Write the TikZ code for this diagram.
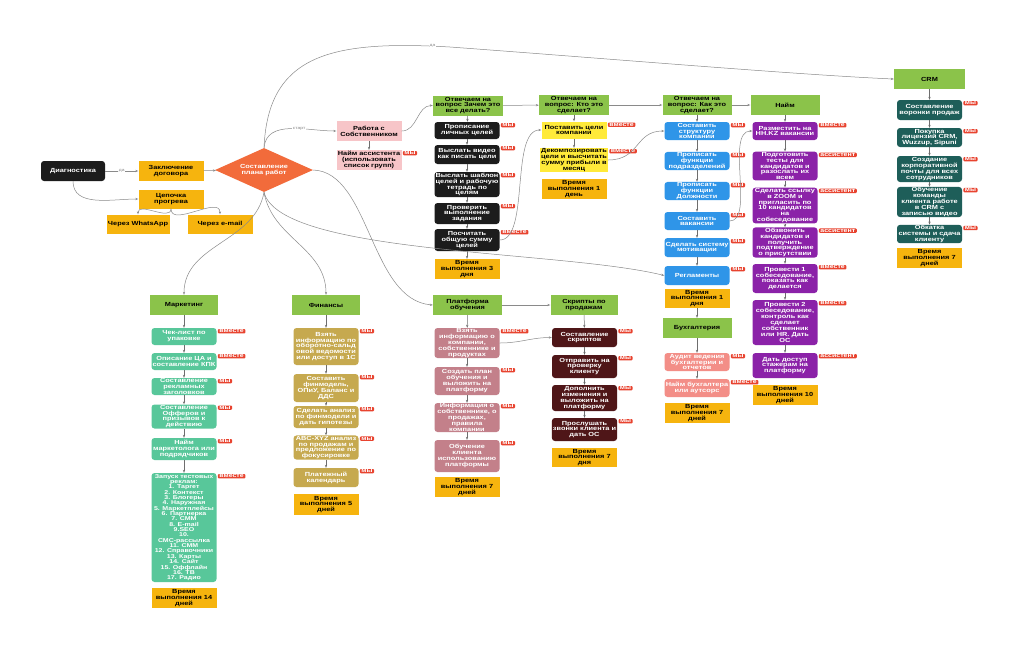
\documentclass[tikz,border=0pt]{standalone}
\usepackage{fontspec}
\newfontfamily\boxfont{Liberation Sans}[FakeStretch=1.25]
\usetikzlibrary{shapes.geometric, arrows.meta, positioning}

\definecolor{hdgreen}{HTML}{8BC34A}
\definecolor{timegold}{HTML}{F6B40E}
\definecolor{nearblack}{HTML}{1C1C1C}
\definecolor{lemon}{HTML}{FFEA3A}
\definecolor{ownerpink}{HTML}{F7C5C8}
\definecolor{planred}{HTML}{F26B3B}
\definecolor{howblue}{HTML}{2F95E8}
\definecolor{hirepurple}{HTML}{8B22A8}
\definecolor{crmteal}{HTML}{1E5E59}
\definecolor{mktmint}{HTML}{58C79A}
\definecolor{finkhaki}{HTML}{C6A94F}
\definecolor{platrose}{HTML}{C3808A}
\definecolor{scrmaroon}{HTML}{4F1618}
\definecolor{accsalmon}{HTML}{F38E87}
\definecolor{tagred}{HTML}{E8432F}
\definecolor{linegray}{HTML}{8A8A8A}

\newcommand{\bx}{\boxfont\bfseries\fontsize{5.9pt}{5.9pt}\selectfont}
\newcommand{\tg}{\boxfont\bfseries\fontsize{5.6pt}{5.8pt}\selectfont}
\newcommand{\lb}{\boxfont\fontsize{4pt}{4.2pt}\selectfont}
\newcommand{\tagat}[2]{\node[tagbox] (#1-t) at ([xshift=1pt,yshift=-1pt]#1.north east) {#2};}

\tikzset{
  arrow/.style    = {-{Stealth[length=3pt]}, linegray!80!black, line width=0.5pt},
  link/.style     = {-{Stealth[length=3pt]}, linegray, line width=0.5pt},
  edgelabel/.style = {fill=white, inner sep=0.5pt, font=\lb, text=linegray},
  box/.style      = {align=center, inner xsep=1pt, inner ysep=0.5pt, font=\bx,
                     minimum width=65pt},
  headbox/.style  = {box, fill=hdgreen, text=black, minimum width=69pt,
                     minimum height=20pt},
  goldbox/.style  = {box, fill=timegold, text=black, minimum height=20pt},
  task/.style     = {box, rounded corners=3pt, text=white},
  blk/.style      = {task, fill=nearblack},
  lemonbox/.style = {box, fill=lemon, text=black},
  ownerbox/.style = {box, fill=ownerpink, text=black},
  howbox/.style   = {task, fill=howblue},
  hirebox/.style  = {task, fill=hirepurple},
  crmbox/.style   = {task, fill=crmteal},
  mktbox/.style   = {task, fill=mktmint},
  finbox/.style   = {task, fill=finkhaki},
  platbox/.style  = {task, fill=platrose},
  scrbox/.style   = {task, fill=scrmaroon},
  accbox/.style   = {task, fill=accsalmon},
  planbox/.style  = {diamond, aspect=2.2, fill=planred, text=white, font=\bx,
                     align=center, inner sep=0pt, minimum width=98pt,
                     minimum height=44pt},
  tagbox/.style   = {fill=tagred, text=white, font=\tg, inner xsep=1.5pt,
                     inner ysep=0.7pt, rounded corners=1pt, anchor=north west},
}

\begin{document}
\begin{tikzpicture}[x=1pt, y=-1pt]
\useasboundingbox[fill=white] (0,0) rectangle (1024,665);

% ---------- start ----------
\node[blk, minimum width=64pt, minimum height=20pt] (diag) at (73,171) {Диагностика};
\node[goldbox] (contract) at (171,171) {Заключение\\договора};
\node[goldbox, minimum height=19pt] (warm) at (171,199) {Цепочка\\прогрева};
\node[goldbox, minimum width=63pt, minimum height=19pt] (wa) at (138,224) {Через WhatsApp};
\node[goldbox, minimum height=19pt] (mail) at (220,224) {Через e-mail};
\node[planbox] (plan) at (264,170) {Составление\\плана работ};

\node[ownerbox, minimum height=20pt] (owner) at (369,131) {Работа с\\Собственником};
\node[ownerbox, minimum height=20pt] (assist) at (369,160) {Найм ассистента\\(использовать\\список групп)};

% ---------- why ----------
\node[headbox, minimum width=70pt] (why) at (468,105.5) {Отвечаем на\\вопрос Зачем это\\все делать?};
\node[blk, minimum height=17pt] (why1) at (467,130.5) {Прописание\\личных целей};
\node[blk, minimum height=19pt] (why2) at (467,154.5) {Выслать видео\\как писать цели};
\node[blk, minimum height=25pt] (why3) at (467,184.5) {Выслать шаблон\\целей и рабочую\\тетрадь по\\целям};
\node[blk, minimum height=21pt] (why4) at (467,213.5) {Проверить\\выполнение\\задания};
\node[blk, minimum height=22pt] (why5) at (467,240) {Посчитать\\общую сумму\\целей};
\node[goldbox] (why6) at (467,269) {Время\\выполнения 3\\дня};

% ---------- who ----------
\node[headbox, minimum width=70pt] (who) at (574,105) {Отвечаем на\\вопрос: Кто это\\сделает?};
\node[lemonbox, minimum height=17pt] (who1) at (574,130) {Поставить цели\\компании};
\node[lemonbox, minimum height=24pt] (who2) at (574,160) {Декомпозировать\\цели и высчитать\\сумму прибыли в\\месяц};
\node[goldbox] (who3) at (574,189) {Время\\выполнения 1\\день};

% ---------- how ----------
\node[headbox] (how) at (697,105) {Отвечаем на\\вопрос: Как это\\сделает?};
\node[howbox, minimum height=18pt] (how1) at (697,131) {Составить\\структуру\\компании};
\node[howbox, minimum height=18pt] (how2) at (697,161) {Прописать\\функции\\подразделений};
\node[howbox, minimum height=18pt] (how3) at (697,191) {Прописать\\функции\\Должности};
\node[howbox, minimum height=18pt] (how4) at (697,221) {Составить\\вакансии};
\node[howbox, minimum height=19pt] (how5) at (697,247.5) {Сделать систему\\мотивации};
\node[howbox, minimum height=19pt] (how6) at (697,275.5) {Регламенты};
\node[goldbox, minimum height=19pt] (how7) at (697,298.5) {Время\\выполнения 1\\дня};

\node[headbox] (acc) at (697,328) {Бухгалтерия};
\node[accbox, minimum height=18pt] (acc1) at (697,362) {Аудит ведения\\бухгалтерии и\\отчетов};
\node[accbox, minimum height=18pt] (acc2) at (697,388) {Найм бухгалтера\\или аутсорс};
\node[goldbox] (acc3) at (697,413) {Время\\выполнения 7\\дней};

% ---------- hire ----------
\node[headbox] (hire) at (785,105) {Найм};
\node[hirebox, minimum height=18pt] (hire1) at (785,131) {Разместить на\\HH.KZ вакансии};
\node[hirebox, minimum height=28pt] (hire2) at (785,166) {Подготовить\\тесты для\\кандидатов и\\разослать их\\всем};
\node[hirebox, minimum height=35pt] (hire3) at (785,205.5) {Сделать ссылку\\в ZOOM и\\пригласить по\\10 кандидатов\\на\\собеседование};
\node[hirebox, minimum height=29pt] (hire4) at (785,242.5) {Обзвонить\\кандидатов и\\получить\\подтверждение\\о присутствии};
\node[hirebox, minimum height=29pt] (hire5) at (785,278.5) {Провести 1\\собеседование,\\показать как\\делается};
\node[hirebox, minimum height=45pt] (hire6) at (785,322.5) {Провести 2\\собеседование,\\контроль как\\сделает\\собственник\\или HR. Дать\\ОС};
\node[hirebox, minimum height=25pt] (hire7) at (785,365.5) {Дать доступ\\стажерам на\\платформу};
\node[goldbox] (hire8) at (785,395) {Время\\выполнения 10\\дней};

% ---------- crm ----------
\node[headbox, minimum width=71pt] (crm) at (929.5,79) {CRM};
\node[crmbox, minimum height=20pt] (crm1) at (929.5,110) {Составление\\воронки продаж};
\node[crmbox, minimum height=19pt] (crm2) at (929.5,137.5) {Покупка\\лицензий CRM,\\Wuzzup, Sipuni};
\node[crmbox, minimum height=26pt] (crm3) at (929.5,169) {Создание\\корпоративной\\почты для всех\\сотрудников};
\node[crmbox, minimum height=30pt] (crm4) at (929.5,202) {Обучение\\команды\\клиента работе\\в CRM с\\записью видео};
\node[crmbox, minimum height=18pt] (crm5) at (929.5,234) {Обкатка\\системы и сдача\\клиенту};
\node[goldbox] (crm6) at (929.5,258) {Время\\выполнения 7\\дней};

% ---------- marketing ----------
\node[headbox, minimum width=68pt] (mkt) at (184,305) {Маркетинг};
\node[mktbox, minimum height=17pt] (mkt1) at (184,336.5) {Чек-лист по\\упаковке};
\node[mktbox, minimum height=17pt] (mkt2) at (184,361.5) {Описание ЦА и\\составление КПК};
\node[mktbox, minimum height=17pt] (mkt3) at (184,386.5) {Составление\\рекламных\\заголовков};
\node[mktbox, minimum height=23pt] (mkt4) at (184,416.5) {Составление\\Офферов и\\призывов к\\действию};
\node[mktbox, minimum height=22pt] (mkt5) at (184,449) {Найм\\маркетолога или\\подрядчиков};
\node[mktbox, minimum height=109pt, font=\boxfont\bfseries\fontsize{5.6pt}{5.35pt}\selectfont] (mkt6) at (184,527.5)
  {Запуск тестовых\\реклам:\\1. Таргет\\2. Контекст\\3. Блогеры\\4. Наружная\\5. Маркетплейсы\\6. Партнерка\\7. СММ\\8. E-mail\\9.SEO\\10.\\СМС-рассылка\\11. СММ\\12. Справочники\\13. Карты\\14. Сайт\\15. Оффлайн\\16. ТВ\\17. Радио};
\node[goldbox] (mkt7) at (184,598) {Время\\выполнения 14\\дней};

% ---------- finance ----------
\node[headbox, minimum width=68pt] (fin) at (326,305) {Финансы};
\node[finbox, minimum height=37pt] (fin1) at (326,346.5) {Взять\\информацию по\\оборотно-сальд\\овой ведомости\\или доступ в 1С};
\node[finbox, minimum height=28pt] (fin2) at (326,388) {Составить\\финмодель,\\ОПиУ, Баланс и\\ДДС};
\node[finbox, minimum height=22pt] (fin3) at (326,417) {Сделать анализ\\по финмодели и\\дать гипотезы};
\node[finbox, minimum height=21pt] (fin4) at (326,447.5) {ABC-XYZ анализ\\по продажам и\\предложение по\\фокусировке};
\node[finbox, minimum height=19pt] (fin5) at (326,477.5) {Платежный\\календарь};
\node[goldbox, minimum height=21pt] (fin6) at (326,504.5) {Время\\выполнения 5\\дней};

% ---------- platform ----------
\node[headbox] (plat) at (467.5,305) {Платформа\\обучения};
\node[platbox, minimum height=30pt] (plat1) at (467,343) {Взять\\информацию о\\компании,\\собственнике и\\продуктах};
\node[platbox, minimum height=28pt] (plat2) at (467,381) {Создать план\\обучения и\\выложить на\\платформу};
\node[platbox, minimum height=29pt] (plat3) at (467,417.5) {Информация о\\собственнике, о\\продажах,\\правила\\компании};
\node[platbox, minimum height=32pt] (plat4) at (467,456) {Обучение\\клиента\\использованию\\платформы};
\node[goldbox] (plat5) at (467,487) {Время\\выполнения 7\\дней};

% ---------- scripts ----------
\node[headbox, minimum width=67pt] (scr) at (584,305) {Скрипты по\\продажам};
\node[scrbox, minimum height=19pt] (scr1) at (584.5,337.5) {Составление\\скриптов};
\node[scrbox, minimum height=23pt] (scr2) at (584.5,366.5) {Отправить на\\проверку\\клиенту};
\node[scrbox, minimum height=26pt] (scr3) at (584.5,398) {Дополнить\\изменения и\\выложить на\\платформу};
\node[scrbox, minimum height=23pt] (scr4) at (584.5,429.5) {Прослушать\\звонки клиента и\\дать ОС};
\node[goldbox, minimum height=19pt] (scr5) at (584.5,457.5) {Время\\выполнения 7\\дня};

% ---------- tags ----------
\tagat{assist}{мы}
\tagat{why1}{мы} \tagat{why2}{мы} \tagat{why3}{мы} \tagat{why4}{мы} \tagat{why5}{вместе}
\tagat{who1}{вместе} \tagat{who2}{вместе}
\tagat{how1}{мы} \tagat{how2}{мы} \tagat{how3}{мы} \tagat{how4}{мы} \tagat{how5}{мы} \tagat{how6}{мы}
\tagat{acc1}{мы} \tagat{acc2}{вместе}
\tagat{hire1}{вместе} \tagat{hire2}{ассистент} \tagat{hire3}{ассистент} \tagat{hire4}{ассистент}
\tagat{hire5}{вместе} \tagat{hire6}{вместе} \tagat{hire7}{ассистент}
\tagat{crm1}{мы} \tagat{crm2}{мы} \tagat{crm3}{мы} \tagat{crm4}{мы} \tagat{crm5}{мы}
\tagat{mkt1}{вместе} \tagat{mkt2}{вместе} \tagat{mkt3}{мы} \tagat{mkt4}{мы} \tagat{mkt5}{мы} \tagat{mkt6}{вместе}
\tagat{fin1}{мы} \tagat{fin2}{мы} \tagat{fin3}{мы} \tagat{fin4}{мы} \tagat{fin5}{мы}
\tagat{plat1}{вместе} \tagat{plat2}{мы} \tagat{plat3}{мы} \tagat{plat4}{мы}
\tagat{scr1}{мы} \tagat{scr2}{мы} \tagat{scr3}{мы} \tagat{scr4}{мы}

% ---------- connectors ----------
\draw[link] (diag) -- (contract) node[midway, edgelabel] {да};
\draw[link] (diag.south) to[out=-90, in=180] (warm.west);
\draw[link] (warm.south) to[out=-90, in=90] (wa.north);
\draw[link] (warm.south) to[out=-90, in=90] (mail.north);
\draw[link] (contract) -- (plan);

\draw[link] (plan.north) to[out=85, in=180] node[pos=0.6, edgelabel] {старт} (owner.west);
\draw[link] (plan.north) .. controls (268,55) and (330,40) .. (450,47)
  node[pos=0.95, edgelabel] {да}
  .. controls (600,58) and (800,75) .. (crm.west);
\draw[arrow] (owner) -- (assist);
\draw[link] (owner.east) to[out=0, in=180] (why.west);

\draw[link] (why) -- (who);
\draw[link] (who) -- (how);
\draw[link] (how) -- (hire);

\draw[arrow] (why) -- (why1);   \draw[arrow] (why1) -- (why2);
\draw[arrow] (why2) -- (why3);  \draw[arrow] (why3) -- (why4);
\draw[arrow] (why4) -- (why5);  \draw[arrow] (why5) -- (why6);
\draw[arrow] (who) -- (who1);   \draw[arrow] (who1) -- (who2);
\draw[arrow] (how) -- (how1);   \draw[arrow] (how1) -- (how2);
\draw[arrow] (how2) -- (how3);  \draw[arrow] (how3) -- (how4);
\draw[arrow] (how4) -- (how5);  \draw[arrow] (how5) -- (how6);
\draw[arrow] (how7) -- (acc);   \draw[arrow] (acc) -- (acc1);
\draw[arrow] (acc1) -- (acc2);
\draw[arrow] (hire) -- (hire1); \draw[arrow] (hire1) -- (hire2);
\draw[arrow] (hire2) -- (hire3); \draw[arrow] (hire3) -- (hire4);
\draw[arrow] (hire4) -- (hire5); \draw[arrow] (hire5) -- (hire6);
\draw[arrow] (hire6) -- (hire7);
\draw[arrow] (crm) -- (crm1);   \draw[arrow] (crm1) -- (crm2);
\draw[arrow] (crm2) -- (crm3);  \draw[arrow] (crm3) -- (crm4);
\draw[arrow] (crm4) -- (crm5);

\draw[link] (why5.east) .. controls (530,240) and (510,130) .. (who1.west);
\draw[link] (who2.east) .. controls (640,160) and (635,131) .. (how1.west);
\draw[link] (how4.east) .. controls (755,221) and (725,131) .. (hire1.west);
\draw[link] (plan.south) .. controls (280,255) and (560,250) .. (how6.west);
\draw[link] (plan.east) .. controls (370,172) and (370,300) .. (plat.west);
\draw[link] (plan.south) to[out=-100, in=90] (mkt.north);
\draw[link] (plan.south) to[out=-80, in=90] (fin.north);

\draw[arrow] (mkt) -- (mkt1);   \draw[arrow] (mkt1) -- (mkt2);
\draw[arrow] (mkt2) -- (mkt3);  \draw[arrow] (mkt3) -- (mkt4);
\draw[arrow] (mkt4) -- (mkt5);  \draw[arrow] (mkt5) -- (mkt6);
\draw[arrow] (fin) -- (fin1);   \draw[arrow] (fin1) -- (fin2);
\draw[arrow] (fin2) -- (fin3);  \draw[arrow] (fin3) -- (fin4);
\draw[arrow] (fin4) -- (fin5);
\draw[arrow] (plat) -- (plat1); \draw[arrow] (plat1) -- (plat2);
\draw[arrow] (plat2) -- (plat3); \draw[arrow] (plat3) -- (plat4);
\draw[link] (plat) -- (scr);
\draw[link] (plat1.east) to[out=0, in=180] (scr1.west);
\draw[arrow] (scr) -- (scr1);   \draw[arrow] (scr1) -- (scr2);
\draw[arrow] (scr2) -- (scr3);  \draw[arrow] (scr3) -- (scr4);

\end{tikzpicture}
\end{document}
